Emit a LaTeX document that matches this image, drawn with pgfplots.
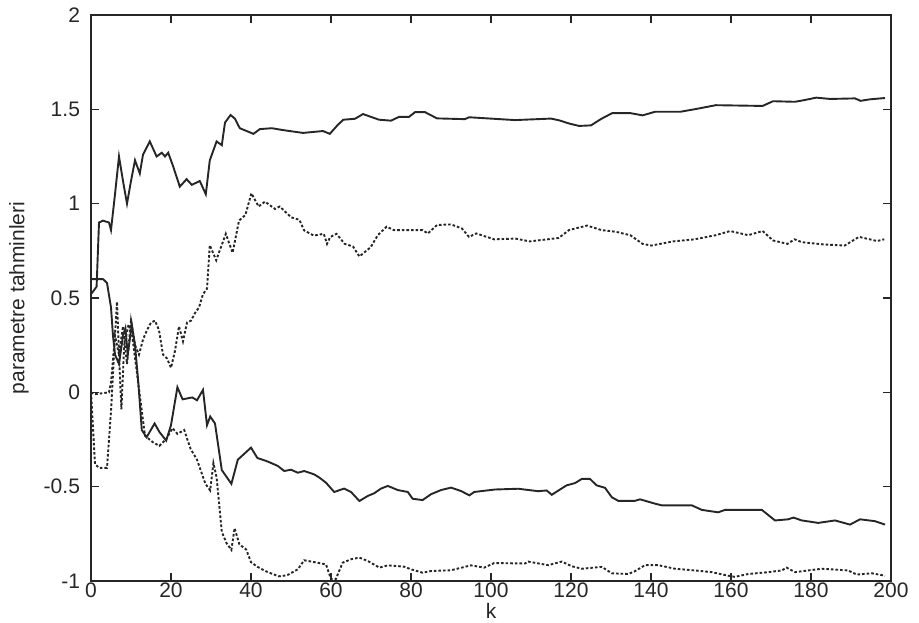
\documentclass[border=0pt]{standalone}
\usepackage{fontspec}
\setmainfont{Liberation Sans}
\usepackage{pgfplots}
\pgfplotsset{compat=1.18}
\begin{document}
\begin{tikzpicture}
\begin{axis}[
  scale only axis, width=400pt, height=283pt,
  xmin=0, xmax=200, ymin=-1, ymax=2,
  xtick={0,20,40,60,80,100,120,140,160,180,200},
  xticklabels={0,20,40,60,80,100,120,140,160,180,200},
  ytick={-1,-0.5,0,0.5,1,1.5,2},
  yticklabels={-1,-0.5,0,0.5,1,1.5,2},
  tick align=inside, major tick length=4pt,
  axis line style={line width=0.9pt, black!85},
  tick style={line width=0.8pt, black!85},
  tick label style={font=\fontsize{10.5}{12}\selectfont, text=black!85},
  yticklabel style={xshift=-2pt},
  xticklabel style={yshift=2.5pt},
  xlabel={k}, ylabel={parametre tahminleri},
  label style={font=\fontsize{10.5}{12}\selectfont, text=black!85},
  ylabel style={at={(axis description cs:0,0.5)}, anchor=center, rotate=0, yshift=36pt},
  xlabel style={at={(axis description cs:0.5,0)}, anchor=center, yshift=-15pt},
  every axis plot/.append style={line width=0.95pt, black!85, no markers},
]
% upper solid
\addplot[solid] coordinates {(0,0.52)(1.4,0.56)(2,0.9)(3,0.91)(4.5,0.9)(5,0.86)(6,1.05)(7,1.25)(8,1.12)(9,1.0)(10,1.12)(11,1.23)(12.2,1.16)(13,1.26)(14.7,1.33)(16.4,1.25)(17.7,1.27)(18.5,1.25)(19.3,1.27)(20.5,1.2)(22.2,1.09)(23.9,1.13)(25.2,1.1)(27.2,1.12)(28.7,1.05)(29.7,1.23)(31.4,1.33)(32.7,1.31)(33.5,1.43)(34.9,1.47)(36,1.45)(37.2,1.40)(40.6,1.37)(42.2,1.395)(45.2,1.40)(48,1.39)(53,1.375)(58,1.385)(59.7,1.37)(61.8,1.42)(63.1,1.445)(66,1.45)(68,1.475)(72,1.445)(75,1.44)(77,1.46)(79.5,1.46)(81,1.485)(83.5,1.485)(86.5,1.452)(93.5,1.448)(94.5,1.458)(106,1.443)(115,1.451)(117,1.442)(119.5,1.425)(122,1.412)(125,1.415)(127.6,1.45)(130.3,1.48)(134.8,1.48)(137.9,1.468)(141,1.487)(147.3,1.487)(151.3,1.502)(156.2,1.522)(167.9,1.518)(170.5,1.543)(176,1.54)(178.6,1.55)(181.3,1.562)(184.8,1.555)(191,1.558)(192.4,1.545)(194.7,1.553)(198.5,1.56)};
% lower solid
\addplot[solid] coordinates {(0,0.6)(3,0.6)(4,0.58)(5,0.45)(5.5,0.3)(6,0.2)(7,0.15)(8,0.3)(8.6,0.34)(9.2,0.2)(10.2,0.36)(11,0.25)(11.8,0.06)(12.7,-0.2)(13.9,-0.238)(15.9,-0.165)(17.1,-0.21)(18.8,-0.256)(20,-0.174)(21.6,0.027)(22.9,-0.037)(25.3,-0.027)(26.5,-0.042)(28,0.013)(29,-0.174)(29.8,-0.128)(31,-0.165)(32.7,-0.412)(35.1,-0.485)(36.7,-0.357)(40,-0.293)(41.6,-0.348)(44.1,-0.366)(46.7,-0.39)(48.3,-0.417)(50,-0.41)(51.7,-0.426)(53.3,-0.417)(55.8,-0.435)(57.1,-0.452)(58.75,-0.479)(60.8,-0.528)(63.3,-0.51)(65,-0.528)(67.1,-0.576)(69.2,-0.549)(70.8,-0.535)(72.5,-0.51)(74.2,-0.496)(76.7,-0.518)(79.2,-0.528)(80.4,-0.564)(82.9,-0.571)(85,-0.54)(87.5,-0.518)(90,-0.505)(92.5,-0.523)(94.6,-0.546)(95.8,-0.528)(101,-0.515)(106.8,-0.511)(111.8,-0.524)(113.9,-0.52)(115.2,-0.543)(117.25,-0.515)(118.9,-0.493)(121,-0.481)(122.7,-0.459)(124.75,-0.459)(126.4,-0.493)(128.5,-0.506)(130.2,-0.556)(131.8,-0.575)(136,-0.575)(137.25,-0.567)(141,-0.59)(142.7,-0.599)(150.2,-0.599)(152.7,-0.623)(156.8,-0.636)(158.5,-0.623)(167.7,-0.623)(171,-0.679)(174.3,-0.673)(175.6,-0.664)(177.7,-0.679)(181.8,-0.692)(186,-0.679)(189.75,-0.701)(192.25,-0.673)(196,-0.683)(198.5,-0.701)};
% upper dotted
\addplot[dash pattern=on 1.3pt off 1pt] coordinates {(0,0)(1,-0.01)(4.5,0)(5,0.05)(6,0.3)(7,0.2)(8,0.35)(9,0.15)(10,0.38)(11,0.25)(12,0.2)(13,0.28)(14,0.33)(15,0.37)(16,0.38)(17,0.33)(18,0.2)(19,0.18)(20,0.13)(21,0.22)(22,0.35)(23,0.27)(24,0.37)(25,0.38)(26,0.42)(27,0.45)(28,0.52)(29,0.55)(29.7,0.78)(31.3,0.7)(33.7,0.84)(35.4,0.74)(37,0.91)(38.6,0.94)(40.1,1.055)(41.9,0.985)(43.5,1.011)(46,0.972)(47.2,0.985)(50,0.928)(52.1,0.914)(53.3,0.858)(55.7,0.831)(58.2,0.84)(59,0.787)(59.8,0.823)(61.4,0.84)(63.4,0.787)(65.5,0.773)(67.1,0.72)(69.9,0.769)(71.7,0.833)(73.9,0.878)(75.7,0.86)(82.9,0.86)(84.2,0.842)(86.5,0.887)(90,0.89)(92.7,0.869)(94.5,0.824)(96.3,0.842)(100.8,0.811)(106.1,0.815)(109.7,0.8)(116.9,0.818)(119.5,0.86)(124,0.884)(127.6,0.86)(131.2,0.851)(134.8,0.833)(137.9,0.787)(140.1,0.778)(145.5,0.8)(150.9,0.811)(156.2,0.833)(159.8,0.855)(164.3,0.833)(167.9,0.855)(170.5,0.805)(174.1,0.787)(175.9,0.811)(177.7,0.796)(183.1,0.784)(188.4,0.778)(192,0.824)(194.7,0.811)(196.5,0.802)(198.3,0.811)};
% lower dotted
\addplot[dash pattern=on 1.3pt off 1pt] coordinates {(0,0)(1,-0.38)(2,-0.4)(4,-0.4)(5,-0.1)(6,0.3)(6.5,0.48)(7.2,0.1)(7.6,-0.09)(8.3,0.25)(9.4,0.36)(10.3,0.3)(11.8,0.05)(13.5,-0.23)(15.5,-0.265)(17.1,-0.284)(18.8,-0.247)(20.4,-0.19)(21.6,-0.22)(23.3,-0.2)(24.9,-0.3)(26.5,-0.357)(28.6,-0.485)(29.8,-0.52)(30.6,-0.375)(31.4,-0.45)(32.7,-0.74)(33.9,-0.8)(35.1,-0.835)(35.9,-0.72)(37.1,-0.806)(38.8,-0.833)(40,-0.9)(41.6,-0.925)(44.1,-0.952)(46.9,-0.975)(49,-0.97)(51.7,-0.938)(53.3,-0.89)(55.8,-0.9)(58.75,-0.912)(60,-0.99)(61.2,-0.99)(62.9,-0.903)(65,-0.885)(67.1,-0.876)(69.2,-0.894)(72.1,-0.929)(74.2,-0.917)(78.3,-0.924)(80,-0.938)(82.9,-0.956)(85,-0.947)(90,-0.943)(95,-0.917)(98.3,-0.929)(100.8,-0.905)(108.5,-0.907)(109.3,-0.897)(114.3,-0.916)(117.7,-0.897)(120.2,-0.922)(122.7,-0.935)(127.7,-0.925)(130.2,-0.959)(134.3,-0.963)(136,-0.948)(138.5,-0.916)(141.8,-0.916)(146,-0.935)(151,-0.944)(155.2,-0.953)(159.3,-0.972)(161,-0.978)(164.3,-0.963)(169.3,-0.953)(172.7,-0.944)(173.9,-0.929)(176,-0.953)(179.3,-0.944)(182.7,-0.935)(189.3,-0.944)(191.4,-0.966)(195.2,-0.959)(198.5,-0.972)};
\end{axis}
\pgfresetboundingbox
\path ([xshift=-45.5pt,yshift=-20.5pt]current axis.south west) rectangle ([xshift=14pt,yshift=7.5pt]current axis.north east);
\end{tikzpicture}
\end{document}
